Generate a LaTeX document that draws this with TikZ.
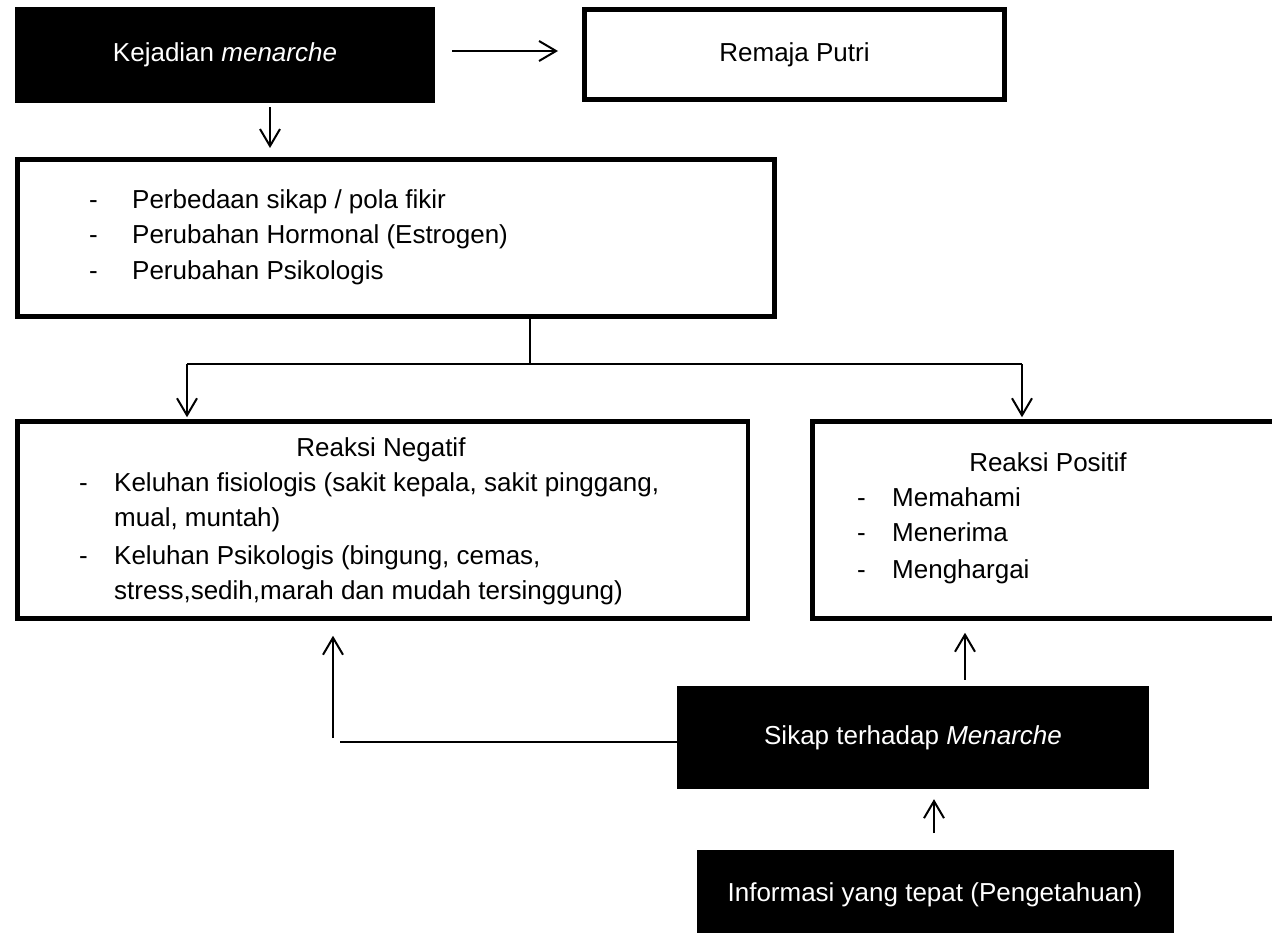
\documentclass[tikz,border=0pt]{standalone}
\usepackage{fontspec}
\setmainfont{Liberation Sans}
\usetikzlibrary{arrows.meta}
\begin{document}
\begin{tikzpicture}[x=1pt,y=1pt,
  every node/.style={font=\fontsize{26}{36}\selectfont},
  blackbox/.style={rectangle, fill=black, text=white, inner sep=0pt},
  framebox/.style={rectangle, draw=black, fill=white, inner sep=0pt},
  txt/.style={inner sep=0pt, anchor=west, text height=19pt, text depth=6pt},
  ctxt/.style={inner sep=0pt, text height=19pt, text depth=6pt},
  arr/.style={-{Straight Barb[length=17pt,width=20pt]}, line width=2pt},
  link/.style={line width=1.8pt}
]
\useasboundingbox (0,0) rectangle (1272,-933);

% boxes
\node[blackbox, minimum width=420pt, minimum height=96pt] (kej) at (225,-55) {Kejadian \textit{menarche}};
\node[framebox, line width=5pt, minimum width=420pt, minimum height=90pt] (rem) at (794.5,-54.5) {Remaja Putri};
\node[framebox, line width=5pt, minimum width=757pt, minimum height=157pt] (big) at (396,-238) {};
\node[framebox, line width=4.5pt, minimum width=730.5pt, minimum height=197pt] (neg) at (382.5,-520) {};
\node[framebox, line width=4.5pt, minimum width=467.75pt, minimum height=197pt] (pos) at (1046.125,-520) {};
\node[blackbox, minimum width=472pt, minimum height=103pt] (sik) at (913,-737.5) {Sikap terhadap \textit{Menarche}};
\node[blackbox, minimum width=477pt, minimum height=100pt, anchor=north west] (inf) at (697,-850) {};
\node[ctxt, text=white] (inft) at (935,-895) {Informasi yang tepat (Pengetahuan)};

% big box list
\node[txt] (b1d) at (89,-202) {-};
\node[txt] (b1) at (132,-202) {Perbedaan sikap / pola fikir};
\node[txt] (b2d) at (89,-237) {-};
\node[txt] (b2) at (132,-237) {Perubahan Hormonal (Estrogen)};
\node[txt] (b3d) at (89,-273) {-};
\node[txt] (b3) at (132,-273) {Perubahan Psikologis};

% negative
\node[ctxt] (negt) at (381,-450) {Reaksi Negatif};
\node[txt] (n1d) at (79,-485) {-};
\node[txt] (n1) at (114,-485) {Keluhan fisiologis (sakit kepala, sakit pinggang,};
\node[txt] (n1b) at (114,-520) {mual, muntah)};
\node[txt] (n2d) at (79,-558) {-};
\node[txt] (n2) at (114,-558) {Keluhan Psikologis (bingung, cemas,};
\node[txt] (n2b) at (114,-593) {stress,sedih,marah dan mudah tersinggung)};

% positive
\node[ctxt] (post) at (1048,-465) {Reaksi Positif};
\node[txt] (p1d) at (857,-500) {-};
\node[txt] (p1) at (892,-500) {Memahami};
\node[txt] (p2d) at (857,-535) {-};
\node[txt] (p2) at (892,-535) {Menerima};
\node[txt] (p3d) at (857,-572) {-};
\node[txt] (p3) at (892,-572) {Menghargai};

% connectors
\draw[arr, shorten <=17pt, shorten >=24pt] (kej.east |- 0,-51) -- (rem.west |- 0,-51);
\coordinate (dA) at (270,0);
\draw[arr, shorten <=4pt, shorten >=9pt] (kej.south -| dA) -- (big.north -| dA);

\coordinate (br) at (530,-364);
\coordinate (brL) at (187,-364);
\coordinate (brR) at (1022,-364);
\draw[link] (big.south -| br) -- (br);
\draw[link] (brL) -- (brR);
\draw[arr, shorten >=2pt] (brL) -- (neg.north -| brL);
\draw[arr, shorten >=2pt] (brR) -- (pos.north -| brR);

\coordinate (sp) at (965,0);
\draw[arr, shorten <=6pt, shorten >=12pt] (sik.north -| sp) -- (pos.south -| sp);
\coordinate (ip) at (934,0);
\draw[arr, shorten <=17pt, shorten >=10pt] (inf.north -| ip) -- (sik.south -| ip);

\coordinate (elb) at (340,-742);
\coordinate (elb2) at (333,-738);
\draw[link] (sik.west |- elb) -- (elb);
\draw[arr, shorten >=15pt] (elb2) -- (neg.south -| elb2);
\end{tikzpicture}
\end{document}
